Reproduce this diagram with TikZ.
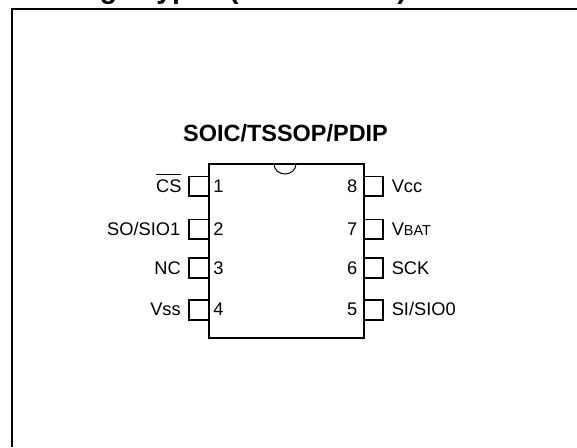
\documentclass[tikz,border=0pt]{standalone}
\usepackage{fontspec}
\setmainfont{Liberation Sans}
\usepackage{tikz}

\tikzset{
  chipline/.style={line width=1.3pt},
  framelabel/.style={inner sep=0pt,font=\fontsize{21.4pt}{24pt}\bfseries},
  chiptitle/.style={inner sep=0pt,font=\fontsize{17.6pt}{20pt}\bfseries},
  pinlabel/.style={inner sep=0pt,font=\fontsize{13.7pt}{16pt}\selectfont},
}
\newcommand{\smallcap}[1]{{\fontsize{10.8pt}{12pt}\selectfont #1}}

\begin{document}
\begin{tikzpicture}[x=0.75pt,y=-0.75pt]
\useasboundingbox (0,0) rectangle (577,447);
\clip (0,0) rectangle (577,447);
\fill [white] (0,0) rectangle (577,447);

\node [framelabel,anchor=base west] (frametitle) at (17,-2) {Package Types (not to scale)};
\draw [line width=1.7pt] (577,9.3) -- (12.2,9.3) -- (12.2,447);

\node [chiptitle,anchor=base] (chipname) at (285.5,141.7) {SOIC/TSSOP/PDIP};

\draw [chipline] (209,164) rectangle (364,338);
\draw [line width=0.75pt] (274,164) arc (180:0:11 and 10);

\draw [chipline]
(209,176.5) -- (189,176.5) -- (189,196) -- (209,196)
(209,219.5) -- (189,219.5) -- (189,239) -- (209,239)
(209,258) -- (189,258) -- (189,278) -- (209,278)
(209,300) -- (189,300) -- (189,320) -- (209,320);
\draw [chipline]
(364,176.5) -- (383,176.5) -- (383,196) -- (364,196)
(364,219.5) -- (383,219.5) -- (383,239) -- (364,239)
(364,258) -- (383,258) -- (383,278) -- (364,278)
(364,300) -- (383,300) -- (383,320) -- (364,320);

\node [pinlabel,anchor=base east] (csname) at (181.7,192) {$\overline{\mbox{\rule{0pt}{12.2pt}CS}}$};
\node [pinlabel,anchor=base east] (soname) at (180.5,235) {SO/SIO1};
\node [pinlabel,anchor=base east] (ncname) at (181,274) {NC};
\node [pinlabel,anchor=base east] (vssname) at (181,315) {Vss};

\node [pinlabel,anchor=base west] (pinone) at (213,192) {1};
\node [pinlabel,anchor=base west] (pintwo) at (213,235) {2};
\node [pinlabel,anchor=base west] (pinthree) at (213,274) {3};
\node [pinlabel,anchor=base west] (pinfour) at (213,315) {4};

\node [pinlabel,anchor=base east] (pineight) at (357.5,192) {8};
\node [pinlabel,anchor=base east] (pinseven) at (357.5,235) {7};
\node [pinlabel,anchor=base east] (pinsix) at (357.5,274) {6};
\node [pinlabel,anchor=base east] (pinfive) at (357.5,315) {5};

\node [pinlabel,anchor=base west] (vccname) at (391.5,192) {Vcc};
\node [pinlabel,anchor=base west] (vbatname) at (391.5,235) {V\smallcap{BAT}};
\node [pinlabel,anchor=base west] (sckname) at (391.5,274) {SCK};
\node [pinlabel,anchor=base west] (siname) at (391.5,315) {SI/SIO0};
\end{tikzpicture}
\end{document}
